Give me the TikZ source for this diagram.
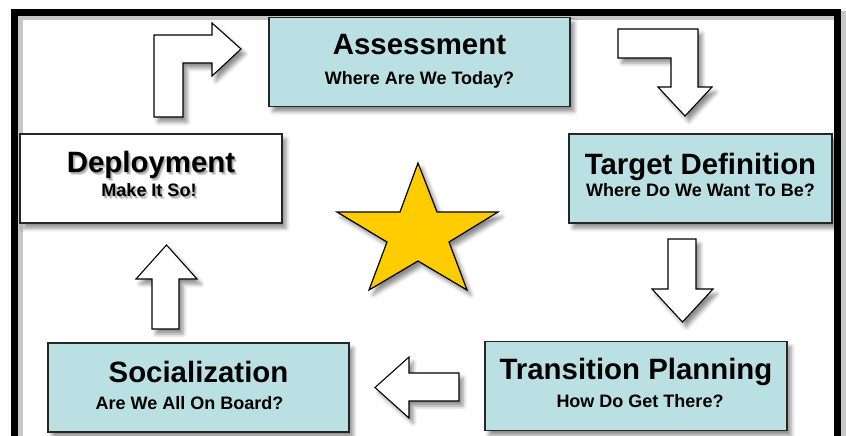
\documentclass[tikz,border=0pt]{standalone}
\usepackage{fontspec}
\setmainfont{Liberation Sans}
\usetikzlibrary{shadows.blur}

\definecolor{stagefill}{RGB}{186,224,227}
\definecolor{stargold}{RGB}{255,204,0}
\newcommand{\stagetitle}{\fontsize{14.7}{17}\selectfont\bfseries}
\newcommand{\stagesub}{\fontsize{9}{10.5}\selectfont\bfseries}

\begin{document}
\begin{tikzpicture}[x=0.5pt,y=-0.5pt,
        soft/.style={blur shadow={shadow xshift=2pt,shadow yshift=-2.5pt,shadow blur radius=2pt,shadow opacity=45}},
        stage/.style={draw=black!85,line width=0.9pt,fill=stagefill,soft,minimum height=44.5pt,inner sep=0pt},
        blockarrow/.style={draw,line width=0.55pt,fill=white,soft,line join=miter},
        title/.style={anchor=base,inner sep=0pt,font=\stagetitle},
        sub/.style={anchor=base,inner sep=0pt,font=\stagesub}]
        \useasboundingbox (0,0) rectangle (846,435);

        % outer frame, open at the bottom
        \draw[line width=4.5pt,black!22,xshift=1.8pt,yshift=-1.8pt] (14.5,12) rectangle (837.5,480);
        \draw[line width=3.5pt] (14.5,12) rectangle (837.5,480);

        % stages
        \node (assess) at (419.5,62) [stage, minimum width=150.5pt] {};
        \node (deploy) at (151,178.5) [stage, fill=white, minimum width=131pt] {};
        \node (target) at (700.5,178.5) [stage, minimum width=131.5pt] {};
        \node (social) at (198.5,387.5) [stage, minimum width=150.5pt] {};
        \node (trans) at (636,386) [stage, minimum width=151pt] {};

        \node (assess-t) at (419.5,54) [title] {Assessment};
        \node (assess-s) at (419.5,84) [sub] {Where Are We Today?};
        \foreach \d in {1,2,3} {
                \node (deploy-sh\d) at (151+0.8*\d,172+\d) [title, text=black, opacity=0.15] {Deployment};
                \node (deploy-ssh\d) at (149+0.8*\d,196+\d) [sub, text=black, opacity=0.15] {Make It So!};
        }
        \node (deploy-t) at (151,172) [title] {Deployment};
        \node (deploy-s) at (149,196) [sub] {Make It So!};
        \node (target-t) at (700.5,174) [title] {Target Definition};
        \node (target-s) at (700.5,196) [sub] {Where Do We Want To Be?};
        \node (social-t) at (198.5,382) [title] {Socialization};
        \node (social-s) at (189.5,409) [sub] {Are We All On Board?};
        \node (trans-t) at (636,379) [title] {Transition Planning};
        \node (trans-s) at (640,407) [sub] {How Do Get There?};

        % block arrows between the stages
        \draw[blockarrow] (154,117) -- (154,35) -- (212,35) -- (212,23) -- (241,49) -- (212,76) -- (212,63) -- (183,63) -- (183,117) -- cycle;
        \draw[blockarrow] (618,29) -- (698,29) -- (698,87) -- (712,87) -- (685,116) -- (658,87) -- (671,87) -- (671,58) -- (618,58) -- cycle;
        \draw[blockarrow] (668,239) -- (696,239) -- (696,289) -- (713,289) -- (682.5,322) -- (652,289) -- (668,289) -- cycle;
        \draw[blockarrow] (459,373) -- (459,401) -- (409,401) -- (409,418) -- (375,387.5) -- (409,357) -- (409,373) -- cycle;
        \draw[blockarrow] (152,329) -- (152,279) -- (136,279) -- (166.5,245) -- (197,279) -- (179,279) -- (179,329) -- cycle;

        % star in the middle
        \draw[fill=stargold, line width=0.6pt, soft] (418,163) -- (437,212) -- (498,212) -- (449,242) -- (467,290) -- (418,261)
                -- (369,290) -- (387,242) -- (337,212) -- (400,212) -- cycle;
        \end{tikzpicture}
\end{document}
